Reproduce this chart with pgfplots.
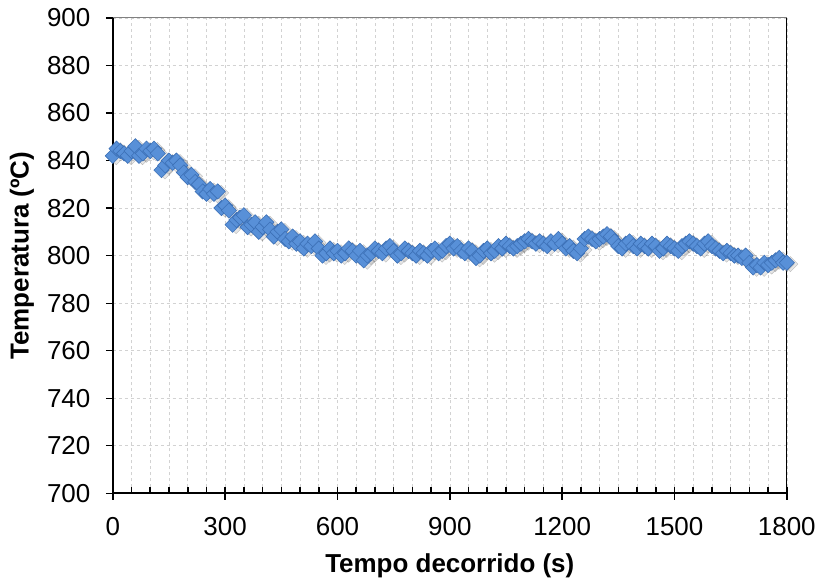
\documentclass[border=0pt]{standalone}
\usepackage{pgfplots}
\pgfplotsset{compat=1.18}
\usepackage{pgfplotstable}
\usepackage{fontspec}
\setmainfont{Liberation Sans}
\definecolor{mk}{RGB}{88,144,216}
\definecolor{mkd}{RGB}{60,112,182}
\definecolor{gridc}{RGB}{210,210,210}
\pgfplotstableread{
t T
0 842
10 845
20 844
30 843
40 842
50 844
60 846
70 842
80 843
90 845
100 844
110 845
120 843
130 836
140 838
150 840
160 839
170 840
180 838
190 835
200 833
210 834
220 831
230 830
240 827
250 826
260 828
270 826
280 827
290 820
300 821
310 819
320 813
330 815
340 816
350 817
360 812
370 813
380 814
390 810
400 812
410 814
420 811
430 808
440 810
450 811
460 807
470 806
480 808
490 805
500 806
510 803
520 805
530 804
540 806
550 803
560 800
570 801
580 803
590 801
600 802
610 800
620 801
630 803
640 802
650 800
660 802
670 798
680 800
690 801
700 803
710 802
720 801
730 803
740 804
750 802
760 800
770 801
780 803
790 802
800 801
810 800
820 802
830 801
840 800
850 802
860 803
870 801
880 802
890 804
900 805
910 803
920 804
930 802
940 801
950 803
960 802
970 799
980 800
990 802
1000 803
1010 801
1020 802
1030 804
1040 803
1050 805
1060 804
1070 803
1080 804
1090 805
1100 806
1110 807
1120 806
1130 805
1140 806
1150 805
1160 804
1170 806
1180 805
1190 807
1200 805
1210 803
1220 804
1230 802
1240 801
1250 803
1260 807
1270 808
1280 807
1290 806
1300 807
1310 808
1320 809
1330 808
1340 806
1350 804
1360 803
1370 805
1380 806
1390 804
1400 803
1410 805
1420 804
1430 803
1440 805
1450 804
1460 802
1470 803
1480 805
1490 804
1500 803
1510 802
1520 804
1530 805
1540 806
1550 805
1560 804
1570 803
1580 805
1590 806
1600 804
1610 803
1620 802
1630 801
1640 802
1650 801
1660 800
1670 800
1680 799
1690 800
1700 797
1710 795
1720 796
1730 795
1740 797
1750 796
1760 797
1770 798
1780 799
1790 797
1800 797
}\datatable
\begin{document}
\begin{tikzpicture}
\begin{axis}[
  scale only axis,
  width=675pt, height=476pt,
  xmin=0, xmax=1800, ymin=700, ymax=900,
  xtick={0,300,...,1800},
  minor x tick num=5,
  ytick={700,720,...,900},
  minor y tick num=0,
  xmajorgrids, xminorgrids, ymajorgrids,
  major grid style={gridc, dashed, line width=0.6pt},
  minor grid style={gridc, dashed, line width=0.6pt},
  axis line style={draw=none},
  xtick align=inside,
  ytick align=outside,
  major tick length=13pt,
  minor tick length=6pt,
  major x tick style={black, line width=1.6pt, yshift=-6.5pt},
  minor x tick style={black, line width=1.6pt},
  major y tick style={black, line width=1.2pt},
  y tick style={/pgfplots/major tick length=7pt},
  xtick pos=bottom, ytick pos=left,
  ticklabel style={font=\fontsize{26}{30}\selectfont},
  /pgf/number format/assume math mode=true,
  /pgf/number format/set thousands separator={},
  xticklabel style={yshift=-21pt},
  yticklabel style={xshift=-6pt},
  xlabel={\textbf{Tempo decorrido (s)}},
  ylabel={\textbf{Temperatura (ºC)}},
  label style={font=\fontsize{26}{30}\selectfont},
  xlabel style={at={(axis description cs:0.5,-0.1534)}, anchor=center},
  ylabel style={at={(axis description cs:-0.1348,0.5)}, anchor=center},
  clip=false,
]
\addplot[only marks, mark=square*, mark size=5.4pt,
  mark options={rotate=45, fill=black!45, draw=none, opacity=0.22, xshift=1.5pt, yshift=-3.5pt}]
  table[x=t, y=T] {\datatable};
\addplot[only marks, mark=square*, mark size=5.4pt,
  mark options={rotate=45, fill=mk, draw=mkd, line width=0.6pt}]
  table[x=t, y=T] {\datatable};
\draw[gray, line width=1pt] (rel axis cs:0,1) -- (rel axis cs:1,1);
\draw[black, line width=1pt] (rel axis cs:1,0) -- (rel axis cs:1,1);
\draw[black, line width=2.4pt] (rel axis cs:0,1) -- (rel axis cs:0,0) -- (rel axis cs:1,0);
\end{axis}
\path (current axis.south west) ++(-113pt,-87pt) coordinate (bl);
\path (current axis.north east) ++(31pt,18pt) coordinate (tr);
\path (bl) rectangle (tr);
\end{tikzpicture}
\end{document}
